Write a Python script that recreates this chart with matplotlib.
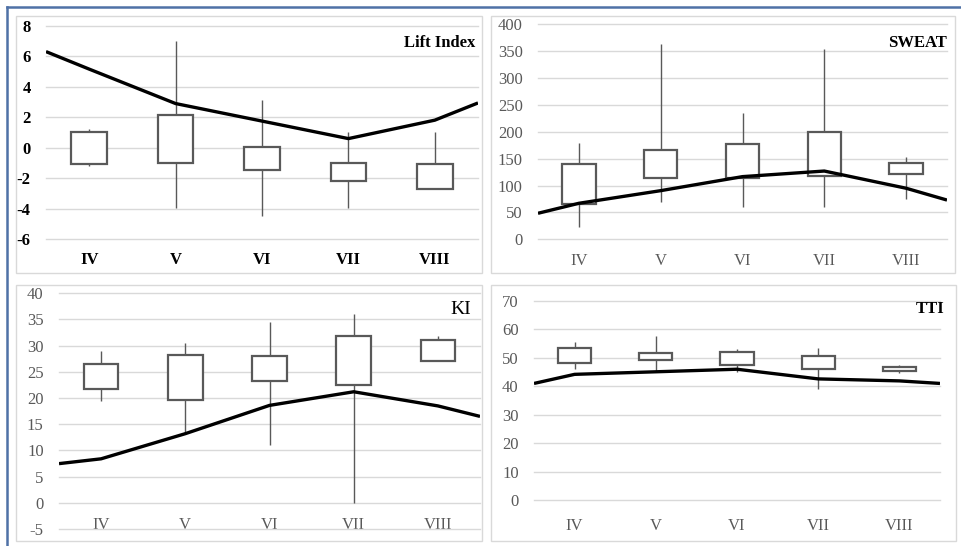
import matplotlib
matplotlib.use("Agg")
import matplotlib.pyplot as plt
from matplotlib.patches import Rectangle
from matplotlib.lines import Line2D

plt.rcParams['font.family'] = ['Liberation Serif', 'DejaVu Serif']

months = ['IV', 'V', 'VI', 'VII', 'VIII']

# Lift Index
li_high = [1.2, 7.0, 3.1, 1.05, 1.05]
li_top = [1.0, 2.13, 0.05, -0.98, -1.07]
li_bottom = [-1.07, -0.98, -1.46, -2.2, -2.72]
li_low = [-1.2, -3.96, -4.5, -3.96, -2.72]
li_line = [6.3, 5.15, 2.89, 1.74, 0.59, 1.8, 2.93]

# SWEAT
sw_high = [178.6, 363, 235.7, 354, 154]
sw_top = [140, 166, 177, 200, 142.6]
sw_bottom = [65, 113.5, 113.5, 118, 121.5]
sw_low = [23.6, 69, 60.8, 60.8, 75]
sw_line = [48.4, 67, 90.5, 116.6, 127, 95, 73]

# KI
ki_high = [28.9, 30.5, 34.6, 36.0, 31.8]
ki_top = [26.5, 28.2, 28.0, 31.9, 31.0]
ki_bottom = [21.7, 19.7, 23.3, 22.4, 27.1]
ki_low = [19.4, 13.2, 11.0, 0.0, 27.1]
ki_line = [7.48, 8.4, 13.2, 18.6, 21.2, 18.5, 16.5]

# TTI
tt_high = [55.5, 57.8, 53.1, 53.6, 47.5]
tt_top = [53.3, 51.7, 52.2, 50.6, 46.7]
tt_bottom = [48.3, 49.1, 47.5, 46.0, 45.5]
tt_low = [46.2, 45.4, 45.1, 39.0, 44.6]
tt_line = [41.0, 44.2, 45.1, 46.0, 42.6, 41.9, 41.0]

W, H = 961, 546
fig = plt.figure(figsize=(W / 100, H / 100), dpi=100)


def fx(px):
    return px / W


def fy(py):
    return 1 - py / H


def frame(x0, y0, x1, y1):
    fig.add_artist(Rectangle((fx(x0), fy(y1)), fx(x1 - x0), (y1 - y0) / H,
                             transform=fig.transFigure, fill=False,
                             edgecolor='#d9d9d9', lw=1))


# outer blue border
fig.add_artist(Line2D([fx(7), fx(7)], [fy(7), 0], transform=fig.transFigure,
                      color='#4f71a6', lw=1.8))
fig.add_artist(Line2D([fx(7), 1], [fy(7), fy(7)], transform=fig.transFigure,
                      color='#4f71a6', lw=1.8))

frame(16, 16, 482, 273)
frame(491, 16, 955, 273)
frame(16, 285, 482, 541)
frame(491, 285, 956, 541)


def panel(box, high, top, bottom, low, line, ylim, step, cross, title,
          tx, ty, tweight, tsize, bold_ticks, xpad):
    x0, y0, x1, y1 = box
    ax = fig.add_axes([fx(x0), fy(y1), fx(x1 - x0), (y1 - y0) / H])
    xs = list(range(len(months)))
    ax.vlines(xs, low, high, color='#595959', lw=1.0, zorder=2)
    for x, t, b in zip(xs, top, bottom):
        ax.add_patch(Rectangle((x - 0.205, min(t, b)), 0.41, abs(t - b),
                               facecolor='white', edgecolor='#595959',
                               lw=1.6, zorder=3))
    line_x = [-0.5] + xs + [len(months) - 0.5]
    ax.plot(line_x, line, color='black', lw=2.4, zorder=4,
            solid_capstyle='butt', solid_joinstyle='round')
    ax.set_xlim(-0.5, len(months) - 0.5)
    ax.set_ylim(*ylim)
    yt = []
    v = ylim[0]
    while v <= ylim[1] + 1e-9:
        yt.append(v)
        v += step
    ax.set_yticks(yt)
    ax.set_yticklabels([f'{t:g}' for t in yt])
    ax.set_xticks(xs)
    ax.set_xticklabels(months)
    ax.grid(axis='y', color='#d9d9d9', lw=1)
    for g in ax.yaxis.get_gridlines():
        g.set_clip_on(False)
    ax.set_axisbelow(True)
    for s in ax.spines.values():
        s.set_visible(False)
    ax.spines['bottom'].set_position(('data', cross))
    col = 'black' if bold_ticks else '#595959'
    wt = 'bold' if bold_ticks else 'normal'
    ax.tick_params(length=0, labelsize=12, labelcolor=col)
    ax.tick_params(axis='x', pad=xpad)
    ax.tick_params(axis='y', pad=11)
    for lab in ax.get_xticklabels() + ax.get_yticklabels():
        lab.set_fontweight(wt)
    ax.text(tx, ty, title, transform=ax.transAxes, ha='right', va='center',
            fontsize=tsize, fontweight=tweight, color='black')
    return ax


panel((46, 25.7, 478, 239), li_high, li_top, li_bottom, li_low, li_line,
      (-6, 8), 2, -6, 'Lift Index', 0.995, 0.919, 'bold', 12, True, 9)
panel((538, 24.3, 947, 239.3), sw_high, sw_top, sw_bottom, sw_low, sw_line,
      (0, 400), 50, 0, 'SWEAT', 1.0, 0.913, 'bold', 12, False, 9.7)
panel((59, 293.3, 480, 529), ki_high, ki_top, ki_bottom, ki_low, ki_line,
      (-5, 40), 5, 0, 'KI', 0.98, 0.933, 'normal', 14, False, 10)
panel((534, 301, 940, 500), tt_high, tt_top, tt_bottom, tt_low, tt_line,
      (0, 70), 10, 0, 'TTI', 1.012, 0.958, 'bold', 12, False, 12.6)

fig.savefig('out.png', dpi=100)
